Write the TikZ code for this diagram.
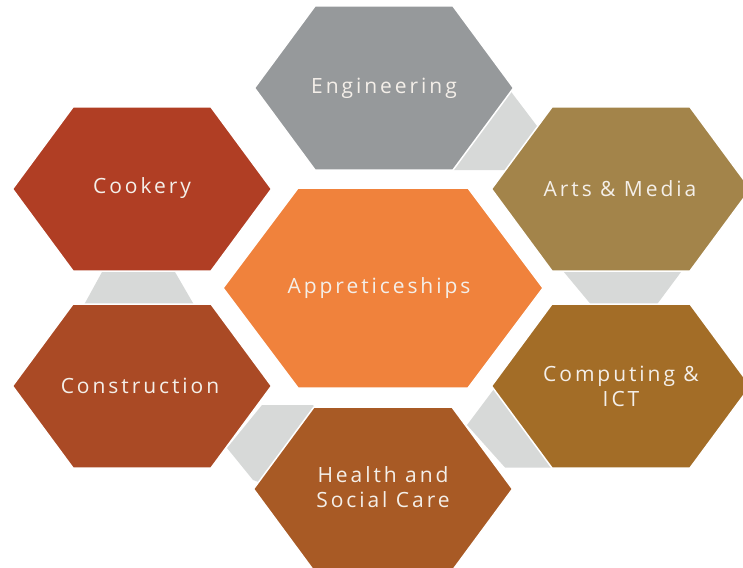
\documentclass[tikz,border=0pt]{standalone}
\usepackage{fontspec}
\setmainfont{Open Sans}
\newfontfamily\hexfont{Open Sans}[LetterSpace=14]
\usepackage{tikz}
\usetikzlibrary{calc,positioning}
\definecolor{EngGray}{HTML}{96999B}
\definecolor{CookRed}{HTML}{B03E24}
\definecolor{ArtsOlive}{HTML}{A3844A}
\definecolor{CompBrown}{HTML}{A36D27}
\definecolor{HealthBrown}{HTML}{A85A25}
\definecolor{ConstrRust}{HTML}{AA4A25}
\definecolor{ApprOrange}{HTML}{F0823C}
\definecolor{LinkGray}{HTML}{D7D9D8}
\definecolor{HexText}{HTML}{F4EFE9}

\begin{document}
\begin{tikzpicture}[x=1pt,y=-1pt,
  hextext/.style={text=HexText, align=center, font=\hexfont\fontsize{21}{25}\selectfont},
  hexedge/.style={draw=white, line width=1.5pt},
  linkpatch/.style={fill=LinkGray}]
\clip (0,0) rectangle (743,567);
% Hexagon sizes, px
\pgfmathsetmacro{\outW}{129.5} % outer half width
\pgfmathsetmacro{\outw}{69}    % outer half top edge
\pgfmathsetmacro{\outH}{82}    % outer half height
\pgfmathsetmacro{\cenW}{160}   % centre half width
\pgfmathsetmacro{\cenw}{85}    % centre half top edge
\pgfmathsetmacro{\cenH}{100}   % centre half height

% Gray links between neighbours - drawn first, hexagons cover them
\fill[linkpatch] (506.7,86) -- (547.6,140) -- (515,170) -- (440,170) -- cycle;
\fill[linkpatch] (560.5,268) -- (684,268) -- (655,307) -- (593,307) -- cycle;
\fill[linkpatch] (467,425) -- (497,385) -- (560,467.5) -- (505,467.5) -- cycle;
\fill[linkpatch] (262,405) -- (313,405) -- (330,430) -- (264,484) -- (253,480) -- (227,448) -- cycle;
\fill[linkpatch] (104.2,268) -- (172.7,268) -- (195.3,307) -- (82.8,307) -- cycle;

% Engineering
\begin{scope}[shift={(384,88)}]
\filldraw[hexedge,fill=EngGray] (-\outW,0) -- (-\outw,-\outH) -- (\outw,-\outH) -- (\outW,0) -- (\outw,\outH) -- (-\outw,\outH) -- cycle;
\node[hextext] (eng) at (0,0) {Engineering};
\end{scope}

% Arts & Media
\begin{scope}[shift={(621,189)}]
\filldraw[hexedge,fill=ArtsOlive] (-\outW,0) -- (-\outw,-\outH) -- (\outw,-\outH) -- (\outW,0) -- (\outw,\outH) -- (-\outw,\outH) -- cycle;
\node[hextext] (arts) at (-1,0) {Arts \& Media};
\end{scope}

% Computing & ICT
\begin{scope}[shift={(621,386)}]
\filldraw[hexedge,fill=CompBrown] (-\outW,0) -- (-\outw,-\outH) -- (\outw,-\outH) -- (\outW,0) -- (\outw,\outH) -- (-\outw,\outH) -- cycle;
\node[hextext] (comp) at (0,0) {Computing \&\\ICT};
\end{scope}

% Health and Social Care
\begin{scope}[shift={(383,489)}]
\filldraw[hexedge,fill=HealthBrown] (-\outW,0) -- (-\outw,-\outH) -- (\outw,-\outH) -- (\outW,0) -- (\outw,\outH) -- (-\outw,\outH) -- cycle;
\node[hextext] (health) at (0,-2) {Health and\\Social Care};
\end{scope}

% Construction
\begin{scope}[shift={(142,386)}]
\filldraw[hexedge,fill=ConstrRust] (-\outW,0) -- (-\outw,-\outH) -- (\outw,-\outH) -- (\outW,0) -- (\outw,\outH) -- (-\outw,\outH) -- cycle;
\node[hextext] (constr) at (-2,0) {Construction};
\end{scope}

% Cookery
\begin{scope}[shift={(142,189)}]
\filldraw[hexedge,fill=CookRed] (-\outW,0) -- (-\outw,-\outH) -- (\outw,-\outH) -- (\outW,0) -- (\outw,\outH) -- (-\outw,\outH) -- cycle;
\node[hextext] (cook) at (0,-1) {Cookery};
\end{scope}

% Centre hexagon
\begin{scope}[shift={(383,288)}]
\filldraw[hexedge,fill=ApprOrange] (-\cenW,0) -- (-\cenw,-\cenH) -- (\cenw,-\cenH) -- (\cenW,0) -- (\cenw,\cenH) -- (-\cenw,\cenH) -- cycle;
\node[hextext] (appr) at (-4,0) {Appreticeships};
\end{scope}

\end{tikzpicture}
\end{document}
